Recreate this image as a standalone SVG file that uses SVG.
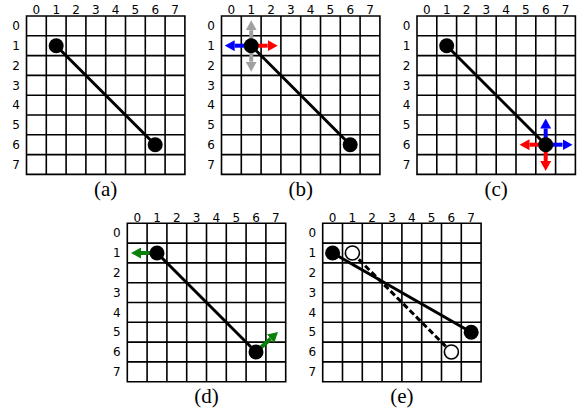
<svg xmlns="http://www.w3.org/2000/svg" width="578" height="415" viewBox="0 0 578 415">
<style>
.bg{fill:#fff}
.grid{fill:none;stroke:#000;stroke-width:1.6}
.num{font-family:"DejaVu Sans",sans-serif;font-size:12px;fill:#000;text-anchor:middle}
.cap{font-family:"Liberation Serif",serif;font-size:21px;fill:#000;text-anchor:middle}
.edge{stroke:#000;stroke-width:3;fill:none}
.dash{stroke:#000;stroke-width:3;fill:none;stroke-dasharray:6 3}
.dot{fill:#000}
.open{fill:#fff;stroke:#000;stroke-width:1.6}
.ab{stroke:#0000ff;stroke-width:4;marker-end:url(#hb)}
.ar{stroke:#ff0000;stroke-width:4;marker-end:url(#hr)}
.ag{stroke:#a0a0a0;stroke-width:4;marker-end:url(#hg)}
.an{stroke:#0a800a;stroke-width:4;marker-end:url(#hn)}
</style>
<defs>
<marker id="hb" viewBox="0 0 10 11" markerWidth="10" markerHeight="11" refX="0" refY="5.5" orient="auto" markerUnits="userSpaceOnUse"><path d="M0,0 L10,5.5 L0,11 z" fill="#0000ff"/></marker>
<marker id="hr" viewBox="0 0 10 11" markerWidth="10" markerHeight="11" refX="0" refY="5.5" orient="auto" markerUnits="userSpaceOnUse"><path d="M0,0 L10,5.5 L0,11 z" fill="#ff0000"/></marker>
<marker id="hg" viewBox="0 0 10 11" markerWidth="10" markerHeight="11" refX="0" refY="5.5" orient="auto" markerUnits="userSpaceOnUse"><path d="M0,0 L10,5.5 L0,11 z" fill="#a0a0a0"/></marker>
<marker id="hn" viewBox="0 0 10 11" markerWidth="10" markerHeight="11" refX="0" refY="5.5" orient="auto" markerUnits="userSpaceOnUse"><path d="M0,0 L10,5.5 L0,11 z" fill="#0a800a"/></marker>
<path id="gridpath" d="M0,0H158.4V158.4H0Z M19.8,0V158.4 M39.6,0V158.4 M59.4,0V158.4 M79.2,0V158.4 M99,0V158.4 M118.8,0V158.4 M138.6,0V158.4 M0,19.8H158.4 M0,39.6H158.4 M0,59.4H158.4 M0,79.2H158.4 M0,99H158.4 M0,118.8H158.4 M0,138.6H158.4"/>
</defs>
<rect class="bg" x="0" y="0" width="578" height="415"/>

<!-- Panel (a) -->
<g id="panel-a" transform="translate(26.5,16)">
<use href="#gridpath" class="grid"/>
<g class="num">
<text x="9.9" y="-1.8">0</text><text x="29.7" y="-1.8">1</text><text x="49.5" y="-1.8">2</text><text x="69.3" y="-1.8">3</text><text x="89.1" y="-1.8">4</text><text x="108.9" y="-1.8">5</text><text x="128.7" y="-1.8">6</text><text x="148.5" y="-1.8">7</text>
<text x="-10.5" y="14.2">0</text><text x="-10.5" y="34">1</text><text x="-10.5" y="53.8">2</text><text x="-10.5" y="73.6">3</text><text x="-10.5" y="93.4">4</text><text x="-10.5" y="113.2">5</text><text x="-10.5" y="133">6</text><text x="-10.5" y="152.8">7</text>
</g>
<g id="a-connectors"><line class="edge" x1="29.7" y1="29.7" x2="128.7" y2="128.7"/></g>
<g id="a-p1"><circle class="dot" cx="29.7" cy="29.7" r="7.5"/></g>
<g id="a-p2"><circle class="dot" cx="128.7" cy="128.7" r="7.5"/></g>
<text class="cap" x="79.2" y="180.3">(a)</text>
</g>

<!-- Panel (b) -->
<g id="panel-b" transform="translate(221.5,16)">
<use href="#gridpath" class="grid"/>
<g class="num">
<text x="9.9" y="-1.8">0</text><text x="29.7" y="-1.8">1</text><text x="49.5" y="-1.8">2</text><text x="69.3" y="-1.8">3</text><text x="89.1" y="-1.8">4</text><text x="108.9" y="-1.8">5</text><text x="128.7" y="-1.8">6</text><text x="148.5" y="-1.8">7</text>
<text x="-10.5" y="14.2">0</text><text x="-10.5" y="34">1</text><text x="-10.5" y="53.8">2</text><text x="-10.5" y="73.6">3</text><text x="-10.5" y="93.4">4</text><text x="-10.5" y="113.2">5</text><text x="-10.5" y="133">6</text><text x="-10.5" y="152.8">7</text>
</g>
<g id="b-connectors">
<line class="edge" x1="29.7" y1="29.7" x2="128.7" y2="128.7"/>
<line class="ag" x1="29.7" y1="29.7" x2="29.7" y2="14.2"/>
<line class="ag" x1="29.7" y1="29.7" x2="29.7" y2="45.7"/>
<line class="ab" x1="29.7" y1="29.7" x2="13.2" y2="29.7"/>
<line class="ar" x1="29.7" y1="29.7" x2="46.2" y2="29.7"/>
</g>
<g id="b-p1"><circle class="dot" cx="29.7" cy="29.7" r="7.5"/></g>
<g id="b-p2"><circle class="dot" cx="128.7" cy="128.7" r="7.5"/></g>
<text class="cap" x="79.2" y="180.3">(b)</text>
</g>

<!-- Panel (c) -->
<g id="panel-c" transform="translate(417,16)">
<use href="#gridpath" class="grid"/>
<g class="num">
<text x="9.9" y="-1.8">0</text><text x="29.7" y="-1.8">1</text><text x="49.5" y="-1.8">2</text><text x="69.3" y="-1.8">3</text><text x="89.1" y="-1.8">4</text><text x="108.9" y="-1.8">5</text><text x="128.7" y="-1.8">6</text><text x="148.5" y="-1.8">7</text>
<text x="-10.5" y="14.2">0</text><text x="-10.5" y="34">1</text><text x="-10.5" y="53.8">2</text><text x="-10.5" y="73.6">3</text><text x="-10.5" y="93.4">4</text><text x="-10.5" y="113.2">5</text><text x="-10.5" y="133">6</text><text x="-10.5" y="152.8">7</text>
</g>
<g id="c-connectors">
<line class="edge" x1="29.7" y1="29.7" x2="128.7" y2="128.7"/>
<line class="ab" x1="128.7" y1="128.7" x2="128.7" y2="112.5"/>
<line class="ab" x1="128.7" y1="128.7" x2="145.5" y2="128.7"/>
<line class="ar" x1="128.7" y1="128.7" x2="112.5" y2="128.7"/>
<line class="ar" x1="128.7" y1="128.7" x2="128.7" y2="145"/>
</g>
<g id="c-p1"><circle class="dot" cx="29.7" cy="29.7" r="7.5"/></g>
<g id="c-p2"><circle class="dot" cx="128.7" cy="128.7" r="7.5"/></g>
<text class="cap" x="79.2" y="180.3">(c)</text>
</g>

<!-- Panel (d) -->
<g id="panel-d" transform="translate(127.3,223.3)">
<use href="#gridpath" class="grid"/>
<g class="num">
<text x="9.9" y="-1.8">0</text><text x="29.7" y="-1.8">1</text><text x="49.5" y="-1.8">2</text><text x="69.3" y="-1.8">3</text><text x="89.1" y="-1.8">4</text><text x="108.9" y="-1.8">5</text><text x="128.7" y="-1.8">6</text><text x="148.5" y="-1.8">7</text>
<text x="-10.5" y="14.2">0</text><text x="-10.5" y="34">1</text><text x="-10.5" y="53.8">2</text><text x="-10.5" y="73.6">3</text><text x="-10.5" y="93.4">4</text><text x="-10.5" y="113.2">5</text><text x="-10.5" y="133">6</text><text x="-10.5" y="152.8">7</text>
</g>
<g id="d-connectors">
<line class="edge" x1="29.7" y1="29.7" x2="128.7" y2="128.7"/>
<line class="an" x1="29.7" y1="29.7" x2="13.7" y2="29.7"/>
<line class="an" x1="128.7" y1="128.7" x2="143.3" y2="115.4"/>
</g>
<g id="d-p1"><circle class="dot" cx="29.7" cy="29.7" r="7.5"/></g>
<g id="d-p2"><circle class="dot" cx="128.7" cy="128.7" r="7.5"/></g>
<text class="cap" x="79.2" y="179.7">(d)</text>
</g>

<!-- Panel (e) -->
<g id="panel-e" transform="translate(322.7,223.3)">
<use href="#gridpath" class="grid"/>
<g class="num">
<text x="9.9" y="-1.8">0</text><text x="29.7" y="-1.8">1</text><text x="49.5" y="-1.8">2</text><text x="69.3" y="-1.8">3</text><text x="89.1" y="-1.8">4</text><text x="108.9" y="-1.8">5</text><text x="128.7" y="-1.8">6</text><text x="148.5" y="-1.8">7</text>
<text x="-10.5" y="14.2">0</text><text x="-10.5" y="34">1</text><text x="-10.5" y="53.8">2</text><text x="-10.5" y="73.6">3</text><text x="-10.5" y="93.4">4</text><text x="-10.5" y="113.2">5</text><text x="-10.5" y="133">6</text><text x="-10.5" y="152.8">7</text>
</g>
<g id="e-connectors">
<line class="dash" x1="29.7" y1="29.7" x2="128.7" y2="128.7"/>
<line class="edge" x1="9.9" y1="29.7" x2="148.5" y2="108.9"/>
</g>
<g id="e-old1"><circle class="open" cx="29.7" cy="29.7" r="7"/></g>
<g id="e-old2"><circle class="open" cx="128.7" cy="128.7" r="7"/></g>
<g id="e-p1"><circle class="dot" cx="9.9" cy="29.7" r="7.5"/></g>
<g id="e-p2"><circle class="dot" cx="148.5" cy="108.9" r="7.5"/></g>
<text class="cap" x="79.2" y="179.7">(e)</text>
</g>
</svg>
